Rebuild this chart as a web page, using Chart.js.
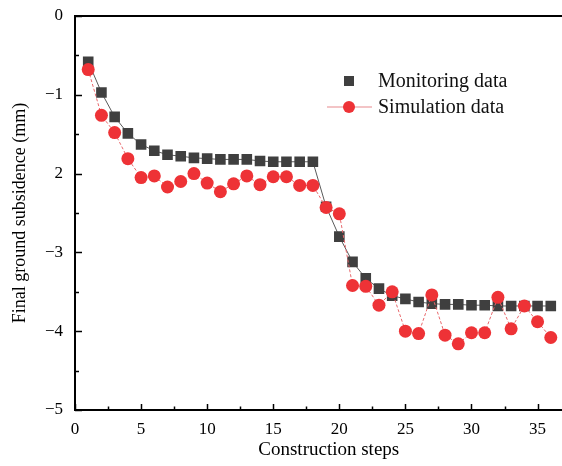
<!DOCTYPE html>
<html>
<head>
<meta charset="utf-8">
<script src="https://cdn.jsdelivr.net/npm/chart.js@4.4.1/dist/chart.umd.min.js"></script>
<style>
  html, body { margin: 0; padding: 0; background: #fff; overflow: hidden; }
  #wrap { width: 590px; height: 466px; }
</style>
</head>
<body>
<div id="wrap"><canvas id="chart" width="590" height="466"></canvas></div>
<script>
// Data
var steps = [1, 2, 3, 4, 5, 6, 7, 8, 9, 10, 11, 12, 13, 14, 15, 16, 17, 18,
             19, 20, 21, 22, 23, 24, 25, 26, 27, 28, 29, 30, 31, 32, 33, 34, 35, 36];
var monitoring = [-0.58, -0.97, -1.28, -1.49, -1.63, -1.71, -1.76, -1.78, -1.80, -1.81, -1.82, -1.82,
                  -1.82, -1.84, -1.85, -1.85, -1.85, -1.85, -2.42, -2.80, -3.12, -3.33, -3.46, -3.55,
                  -3.59, -3.63, -3.65, -3.66, -3.66, -3.67, -3.67, -3.68, -3.68, -3.68, -3.68, -3.68];
var simulation = [-0.68, -1.26, -1.48, -1.81, -2.05, -2.03, -2.17, -2.10, -2.00, -2.12, -2.23, -2.13,
                  -2.03, -2.14, -2.04, -2.04, -2.15, -2.15, -2.43, -2.51, -3.42, -3.43, -3.67, -3.50,
                  -4.00, -4.03, -3.54, -4.05, -4.16, -4.02, -4.02, -3.57, -3.97, -3.68, -3.88, -4.08];
var xTickLabels = ['0', '5', '10', '15', '20', '25', '30', '35'];
var yTickValues = [0, -1, -2, -3, -4, -5];
var yTickLabels = ['0', '\u22121', '2', '\u22123', '\u22124', '\u22125'];
var legendNames = ['Monitoring data', 'Simulation data'];

var serif = "'Liberation Serif', 'DejaVu Serif', serif";
var squareColor = '#3f3f3f';
var circleColor = '#ee3236';

function pts(ys) {
    return steps.map(function (s, i) { return {x: s, y: ys[i]}; });
}

// inward ticks, top frame line and the legend
var framePlugin = {
    id: 'frame',
    afterDraw: function (chart) {
        var ctx = chart.ctx, a = chart.chartArea;
        var xs = chart.scales.x, ys = chart.scales.y;
        ctx.save();
        ctx.strokeStyle = '#000';
        ctx.lineWidth = 1.5;
        xs.ticks.forEach(function (t) {
            var px = Math.round(xs.getPixelForValue(t.value)) + 0.5;
            var len = (t.value % 5 === 0) ? 6 : 3.5;
            ctx.beginPath(); ctx.moveTo(px, a.bottom); ctx.lineTo(px, a.bottom - len); ctx.stroke();
        });
        ys.ticks.forEach(function (t) {
            var py = Math.round(ys.getPixelForValue(t.value)) + 0.5;
            var len = (Math.abs(t.value % 1) < 1e-6) ? 7 : 4;
            ctx.beginPath(); ctx.moveTo(a.left, py); ctx.lineTo(a.left + len, py); ctx.stroke();
        });
        ctx.lineWidth = 2;
        ctx.beginPath(); ctx.moveTo(a.left, a.top); ctx.lineTo(a.right, a.top); ctx.stroke();

        // legend
        ctx.font = '20px ' + serif;
        ctx.textBaseline = 'middle';
        ctx.fillStyle = squareColor;
        ctx.fillRect(344, 76, 10, 10);
        ctx.strokeStyle = '#e88a8d';
        ctx.lineWidth = 1.2;
        ctx.beginPath(); ctx.moveTo(327, 107); ctx.lineTo(372, 107); ctx.stroke();
        ctx.fillStyle = circleColor;
        ctx.beginPath(); ctx.arc(349, 107, 6, 0, Math.PI * 2); ctx.fill();
        ctx.fillStyle = '#111';
        ctx.fillText(legendNames[0], 378, 82);
        ctx.fillText(legendNames[1], 378, 108);
        ctx.restore();
    }
};

var ctx = document.getElementById('chart').getContext('2d');
var myChart = new Chart(ctx, {
    type: 'line',
    data: {
        datasets: [
            {
                label: legendNames[0],
                data: pts(monitoring),
                borderColor: '#5a5a5a',
                borderWidth: 1,
                backgroundColor: squareColor,
                pointStyle: 'rect',
                pointRadius: 7.5,
                pointBorderWidth: 0,
                pointBackgroundColor: squareColor,
                order: 2
            },
            {
                label: legendNames[1],
                data: pts(simulation),
                borderColor: '#e8686c',
                borderWidth: 1,
                borderDash: [3, 2],
                backgroundColor: circleColor,
                pointStyle: 'circle',
                pointRadius: 6.5,
                pointBorderWidth: 0,
                pointBackgroundColor: circleColor,
                order: 1
            }
        ]
    },
    options: {
        responsive: false,
        animation: false,
        layout: { padding: { top: 16, right: 0, left: 0, bottom: 0 } },
        plugins: {
            legend: { display: false },
            tooltip: { enabled: false }
        },
        scales: {
            x: {
                type: 'linear',
                min: 0,
                max: 38.4,
                afterFit: function (s) { s.height = 56; s.paddingLeft = 0; s.paddingRight = 0; },
                grid: { display: false, drawTicks: false },
                border: { display: true, color: '#000', width: 2 },
                ticks: {
                    stepSize: 2.5,
                    includeBounds: false,
                    maxRotation: 0,
                    autoSkip: false,
                    padding: 9,
                    color: '#000',
                    font: { family: serif, size: 17 },
                    callback: function (v) {
                        if (v % 5 !== 0) return '';
                        var i = v / 5;
                        return i < xTickLabels.length ? xTickLabels[i] : '';
                    }
                },
                title: {
                    display: true,
                    text: 'Construction steps',
                    color: '#000',
                    font: { family: serif, size: 19 },
                    padding: { top: 0, bottom: 5 }
                }
            },
            y: {
                min: -5,
                max: 0,
                afterFit: function (s) { s.width = 75; s.paddingTop = 0; s.paddingBottom = 0; },
                grid: { display: false, drawTicks: false },
                border: { display: true, color: '#000', width: 2 },
                ticks: {
                    stepSize: 0.5,
                    autoSkip: false,
                    padding: 12,
                    color: '#000',
                    font: { family: serif, size: 17 },
                    callback: function (v) {
                        var i = yTickValues.indexOf(v);
                        return i >= 0 ? yTickLabels[i] : '';
                    }
                },
                title: {
                    display: true,
                    text: 'Final ground subsidence (mm)',
                    color: '#000',
                    font: { family: serif, size: 18 },
                    padding: { top: 9, bottom: 0 }
                }
            }
        }
    },
    plugins: [framePlugin]
});
</script>
</body>
</html>
